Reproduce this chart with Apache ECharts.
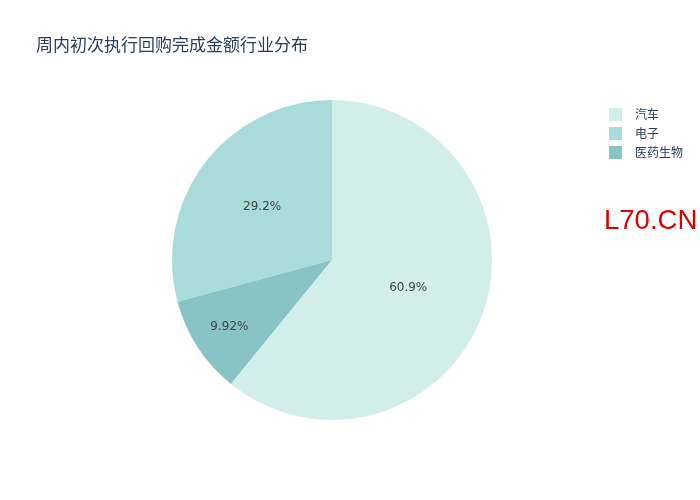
<!DOCTYPE html>
<html>
<head>
<meta charset="utf-8">
<script src="https://cdn.jsdelivr.net/npm/echarts@6/dist/echarts.min.js"></script>
<style>html,body{margin:0;padding:0;background:#fff}#c{width:700px;height:500px}</style>
</head>
<body>
<div id="c"></div>
<script>
// Data (in drawing order, counterclockwise from 12 o'clock)
const categories = ['电子', '医药生物', '汽车'];
const values = [29.2, 9.92, 60.9];
const colors = ['#a8dbd9', '#88c4c6', '#d2eeea'];
const legendOrder = ['汽车', '电子', '医药生物'];
const titleText = '周内初次执行回购完成金额行业分布';
const watermark = 'L70.CN';

const chart = echarts.init(document.getElementById('c'), null, {renderer: 'canvas'});
chart.setOption({
  animation: false,
  backgroundColor: '#ffffff',
  title: {
    text: titleText,
    left: 31, top: 31,
    textStyle: {color: '#2a3f5f', fontSize: 17, fontWeight: 'normal', fontFamily: '"Noto Sans CJK SC", sans-serif'}
  },
  legend: {
    orient: 'vertical',
    left: 604, top: 103,
    icon: 'rect',
    itemWidth: 13, itemHeight: 13, itemGap: 6,
    data: legendOrder,
    textStyle: {color: '#2a3f5f', fontSize: 12, fontFamily: '"Noto Sans CJK SC", sans-serif', padding: [0, 0, 0, 8]}
  },
  graphic: [{
    type: 'text', left: 604, top: 207,
    style: {text: watermark, fill: '#dd0000', fontSize: 27.5, fontFamily: '"Liberation Sans", Arial, sans-serif'}
  }],
  series: [{
    type: 'pie',
    center: [332, 260],
    radius: [0, 160],
    startAngle: 90,
    clockwise: false,
    avoidLabelOverlap: false,
    data: categories.map((n, i) => ({name: n, value: values[i], itemStyle: {color: colors[i]}})),
    label: {
      show: true, position: 'inside',
      formatter: p => p.value + '%',
      color: '#444444', fontSize: 12, fontFamily: '"DejaVu Sans", sans-serif'
    },
    labelLayout: p => p.dataIndex === 1 ? {dx: -33, dy: 22} : (p.dataIndex === 0 ? {dx: -4, dy: -3} : {dx: -2, dy: 0}),
    labelLine: {show: false},
    emphasis: {disabled: true},
    itemStyle: {borderWidth: 0}
  }]
});
</script>
</body>
</html>
